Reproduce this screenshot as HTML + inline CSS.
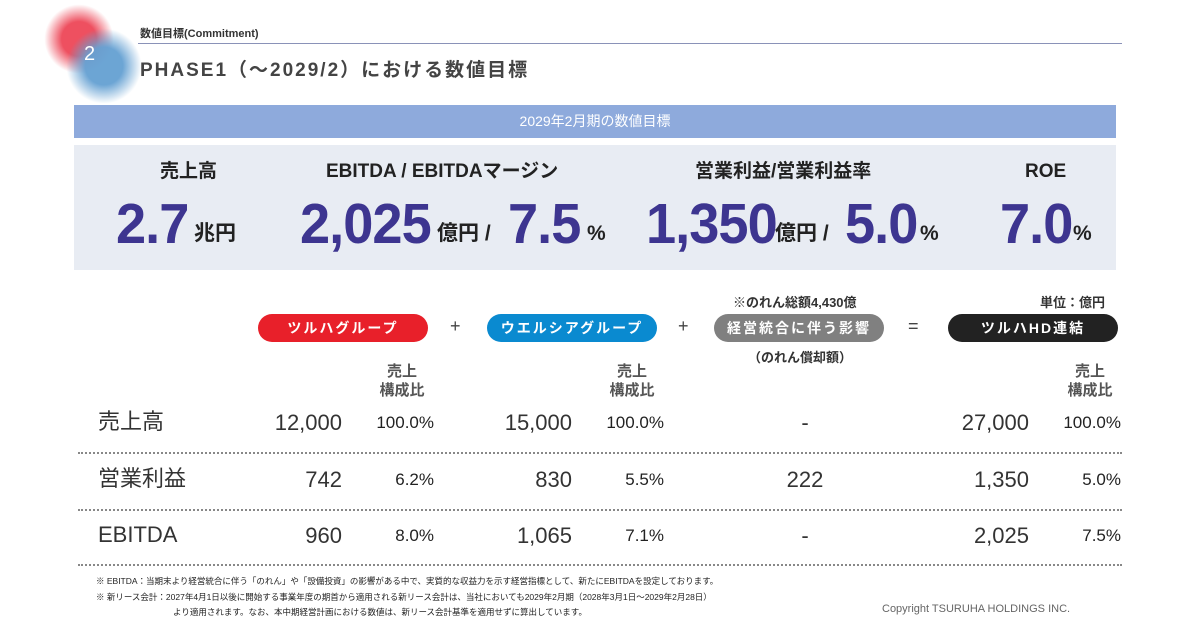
<!DOCTYPE html>
<html><head><meta charset="utf-8"><style>
*{margin:0;padding:0;box-sizing:border-box}
body{width:1200px;height:630px;background:#fff;position:relative;overflow:hidden;font-family:"Liberation Sans","Noto Sans CJK JP",sans-serif;color:#333}
.a{position:absolute;white-space:nowrap}
.big{position:absolute;color:#3d3590;font-weight:bold;font-size:57px;line-height:57px;top:196px;transform:scaleX(0.95);transform-origin:left;letter-spacing:-1px}
.u{position:absolute;font-size:21px;font-weight:bold;color:#222;top:222px;line-height:24px}
.t{font-size:19px;font-weight:bold;color:#222;line-height:24px;top:160px}
.pill{position:absolute;height:28px;border-radius:14px;color:#fff;font-weight:bold;font-size:14px;text-align:center;line-height:28px;letter-spacing:2px;top:314px;width:170px}
.num{font-size:22px;text-align:right;color:#333;line-height:26px}
.pct{font-size:17px;text-align:right;color:#222;line-height:20px}
.lbl{font-size:22px;color:#333;line-height:28px}
.sep{position:absolute;left:78px;width:1044px;border-top:2px dotted #888}
.hd{font-size:15px;color:#555;text-align:center;line-height:19px;font-weight:bold}
</style></head><body>
<div class="a" style="left:44px;top:4px;width:70px;height:70px;border-radius:50%;background:radial-gradient(circle,#ee5060 35%,rgba(238,80,96,0) 70%)"></div>
<div class="a" style="left:66px;top:28px;width:76px;height:76px;border-radius:50%;background:radial-gradient(circle,rgba(100,160,210,.95) 35%,rgba(100,160,210,0) 70%)"></div>
<div class="a" style="left:84px;top:43px;color:#fff;font-size:20px">2</div>
<div class="a" style="left:140px;top:25px;font-size:11px;font-weight:bold;color:#333">数値目標(Commitment)</div>
<div class="a" style="left:138px;top:43px;width:984px;border-top:1px solid #8a92b8"></div>
<div class="a" style="left:140px;top:55px;font-size:19px;font-weight:bold;color:#444;letter-spacing:2px">PHASE1（～2029/2）における数値目標</div>
<div class="a" style="left:74px;top:105px;width:1042px;height:33px;background:#8eaadc;color:#fff;font-size:14px;text-align:center;line-height:33px">2029年2月期の数値目標</div>
<div class="a" style="left:74px;top:145px;width:1042px;height:125px;background:#e8ecf3"></div>
<div class="a t" style="left:160px">売上高</div>
<div class="a t" style="left:326px">EBITDA / EBITDAマージン</div>
<div class="a t" style="left:695px">営業利益/営業利益率</div>
<div class="a t" style="left:1025px">ROE</div>

<div class="a big" style="left:116px">2.7</div><div class="a u" style="left:194px">兆円</div>
<div class="a big" style="left:300px">2,025</div><div class="a u" style="left:437px">億円 /</div>
<div class="a big" style="left:508px">7.5</div><div class="a u" style="left:587px">%</div>
<div class="a big" style="left:646px">1,350</div><div class="a u" style="left:775px">億円 /</div>
<div class="a big" style="left:845px">5.0</div><div class="a u" style="left:920px">%</div>
<div class="a big" style="left:1000px">7.0</div><div class="a u" style="left:1073px">%</div>

<div class="a" style="left:733px;top:292px;font-size:13px;font-weight:bold;color:#333">※のれん総額4,430億</div>
<div class="a" style="left:1040px;top:292px;font-size:13px;font-weight:bold;color:#333">単位：億円</div>
<div class="pill" style="left:258px;background:#e8202a">ツルハグループ</div>
<div class="a" style="left:450px;top:316px;font-size:18px;color:#444">+</div>
<div class="pill" style="left:487px;background:#0a8ad0">ウエルシアグループ</div>
<div class="a" style="left:678px;top:316px;font-size:18px;color:#444">+</div>
<div class="pill" style="left:714px;background:#808080">経営統合に伴う影響</div>
<div class="a" style="left:908px;top:316px;font-size:18px;color:#444">=</div>
<div class="pill" style="left:948px;background:#222">ツルハHD連結</div>
<div class="a" style="left:748px;top:347px;font-size:13px;font-weight:bold;color:#333">（のれん償却額）</div>
<div class="a hd" style="left:362px;top:362px;width:80px">売上<br>構成比</div>
<div class="a hd" style="left:592px;top:362px;width:80px">売上<br>構成比</div>
<div class="a hd" style="left:1050px;top:362px;width:80px">売上<br>構成比</div>

<div class="a lbl" style="left:98px;top:408px">売上高</div>
<div class="a lbl" style="left:98px;top:465px">営業利益</div>
<div class="a lbl" style="left:98px;top:521px">EBITDA</div>

<div class="a num" style="left:222px;width:120px;top:410px">12,000</div>
<div class="a pct" style="left:334px;width:100px;top:413px">100.0%</div>
<div class="a num" style="left:452px;width:120px;top:410px">15,000</div>
<div class="a pct" style="left:564px;width:100px;top:413px">100.0%</div>
<div class="a num" style="left:745px;width:120px;top:410px;text-align:center">-</div>
<div class="a num" style="left:909px;width:120px;top:410px">27,000</div>
<div class="a pct" style="left:1021px;width:100px;top:413px">100.0%</div>

<div class="a num" style="left:222px;width:120px;top:467px">742</div>
<div class="a pct" style="left:334px;width:100px;top:470px">6.2%</div>
<div class="a num" style="left:452px;width:120px;top:467px">830</div>
<div class="a pct" style="left:564px;width:100px;top:470px">5.5%</div>
<div class="a num" style="left:745px;width:120px;top:467px;text-align:center">222</div>
<div class="a num" style="left:909px;width:120px;top:467px">1,350</div>
<div class="a pct" style="left:1021px;width:100px;top:470px">5.0%</div>

<div class="a num" style="left:222px;width:120px;top:523px">960</div>
<div class="a pct" style="left:334px;width:100px;top:526px">8.0%</div>
<div class="a num" style="left:452px;width:120px;top:523px">1,065</div>
<div class="a pct" style="left:564px;width:100px;top:526px">7.1%</div>
<div class="a num" style="left:745px;width:120px;top:523px;text-align:center">-</div>
<div class="a num" style="left:909px;width:120px;top:523px">2,025</div>
<div class="a pct" style="left:1021px;width:100px;top:526px">7.5%</div>

<div class="sep" style="top:452px"></div>
<div class="sep" style="top:509px"></div>
<div class="sep" style="top:564px"></div>

<div class="a" style="left:96px;top:575px;font-size:8.5px;color:#222">※ EBITDA：当期末より経営統合に伴う「のれん」や「設備投資」の影響がある中で、実質的な収益力を示す経営指標として、新たにEBITDAを設定しております。</div>
<div class="a" style="left:96px;top:591px;font-size:8.5px;color:#222">※ 新リース会計：2027年4月1日以後に開始する事業年度の期首から適用される新リース会計は、当社においても2029年2月期（2028年3月1日～2029年2月28日）</div>
<div class="a" style="left:173px;top:606px;font-size:8.5px;color:#222">より適用されます。なお、本中期経営計画における数値は、新リース会計基準を適用せずに算出しています。</div>
<div class="a" style="left:882px;top:603px;font-size:11px;color:#666">Copyright TSURUHA HOLDINGS INC.</div>
</body></html>
